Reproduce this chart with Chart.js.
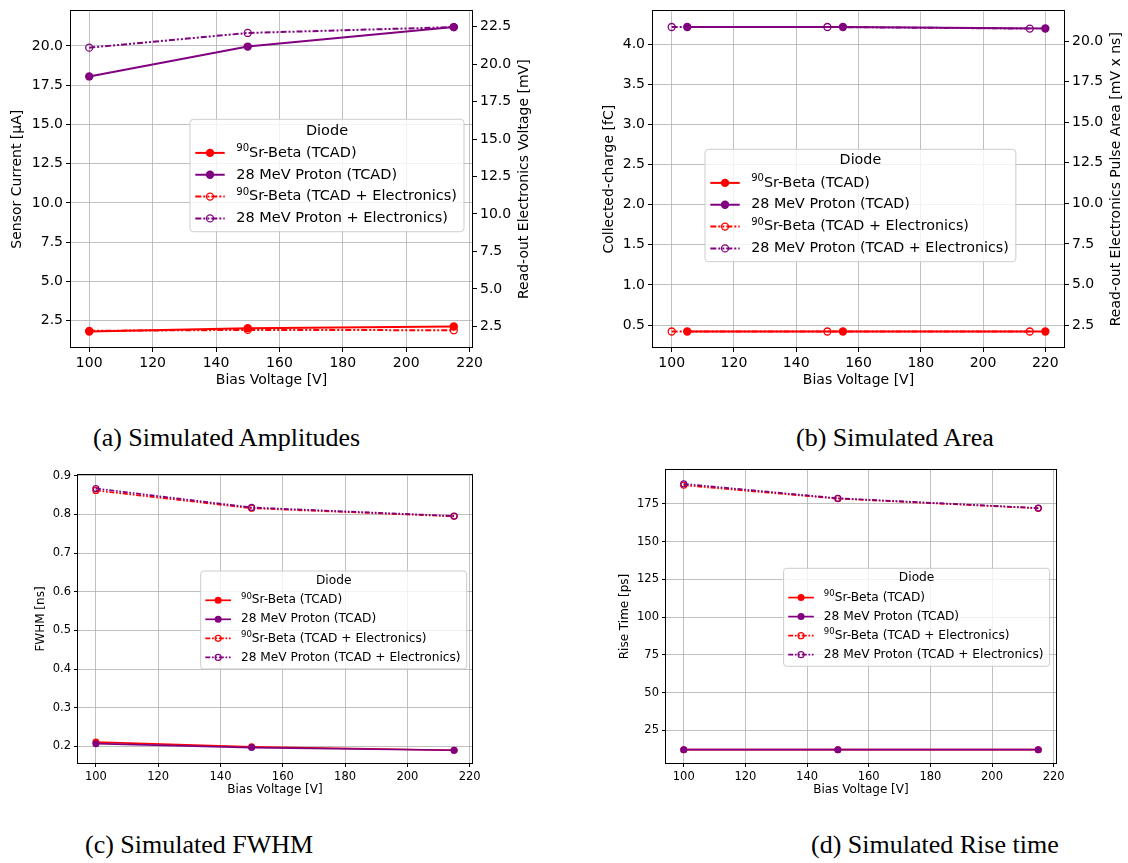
<!DOCTYPE html>
<html>
<head>
<meta charset="utf-8">
<script src="https://cdn.jsdelivr.net/npm/chart.js@4.4.1/dist/chart.umd.min.js"></script>
<style>
  body { margin: 0; background: #fff; width: 1128px; height: 863px; position: relative; overflow: hidden; }
  canvas { position: absolute; }
  .cap { position: absolute; font-family: 'Liberation Serif', 'Times New Roman', serif; font-size: 26px; line-height: 30px; white-space: nowrap; color: #000; }
</style>
</head>
<body>
<canvas id="amp" width="560" height="400" style="left:0px;top:0px"></canvas>
<canvas id="area" width="538" height="400" style="left:590px;top:0px"></canvas>
<canvas id="fwhm" width="560" height="345" style="left:0px;top:460px"></canvas>
<canvas id="rise" width="538" height="345" style="left:590px;top:460px"></canvas>
<div class="cap" style="left:93px;top:423px">(a) Simulated Amplitudes</div>
<div class="cap" style="left:796px;top:423px">(b) Simulated Area</div>
<div class="cap" style="left:85px;top:830px">(c) Simulated FWHM</div>
<div class="cap" style="left:811px;top:830px">(d) Simulated Rise time</div>
<script>
// bias voltages
const biasV = [100, 150, 215];
const biasVShifted = [105, 155, 220];
const xTicks = [100, 120, 140, 160, 180, 200, 220];

// (a) amplitudes: sensor current [uA] (TCAD) and read-out voltage [mV] (electronics)
const ampSrTcad = [1.81, 2.02, 2.14];
const ampProtonTcad = [18.06, 19.96, 21.2];
const ampSrElec = [2.2, 2.26, 2.24];
const ampProtonElec = [21.1, 22.08, 22.47];
const ampLeftTicks = [2.5, 5, 7.5, 10, 12.5, 15, 17.5, 20];
const ampRightTicks = [2.5, 5, 7.5, 10, 12.5, 15, 17.5, 20, 22.5];

// (b) area: collected charge [fC] and pulse area [mV x ns]
const areaSrTcad = [0.42, 0.42, 0.42];
const areaProtonTcad = [4.215, 4.215, 4.196];
const areaSrElec = [2.1, 2.1, 2.1];
const areaProtonElec = [20.87, 20.87, 20.77];
const areaLeftTicks = [0.5, 1, 1.5, 2, 2.5, 3, 3.5, 4];
const areaRightTicks = [2.5, 5, 7.5, 10, 12.5, 15, 17.5, 20];

// (c) FWHM [ns]
const fwhmSrTcad = [0.211, 0.199, 0.19];
const fwhmProtonTcad = [0.207, 0.197, 0.19];
const fwhmSrElec = [0.862, 0.816, 0.795];
const fwhmProtonElec = [0.867, 0.818, 0.796];
const fwhmTicks = [0.2, 0.3, 0.4, 0.5, 0.6, 0.7, 0.8, 0.9];

// (d) rise time [ps]
const riseSrTcad = [12.2, 12.2, 12.2];
const riseProtonTcad = [12.2, 12.2, 12.2];
const riseSrElec = [187.4, 178.5, 172.1];
const riseProtonElec = [188.3, 178.8, 172.3];
const riseTicks = [25, 50, 75, 100, 125, 150, 175];

const labelsA = ['⁹⁰Sr-Beta (TCAD)', '28 MeV Proton (TCAD)', '⁹⁰Sr-Beta (TCAD + Electronics)', '28 MeV Proton + Electronics)'];
const labelsB = ['⁹⁰Sr-Beta (TCAD)', '28 MeV Proton (TCAD)', '⁹⁰Sr-Beta (TCAD + Electronics)', '28 MeV Proton (TCAD + Electronics)'];

const RED = '#ff0000', PURPLE = '#800080';
const FONT = "'DejaVu Sans', sans-serif";
Chart.defaults.font.family = FONT;
Chart.defaults.color = '#000';

const big = { lw: 2, r: 4.2, ro: 3.5, pbw: 1.3, dash: [6, 2, 2, 2, 2, 2] };
const small = { lw: 1.7, r: 3.5, ro: 3, pbw: 1.2, dash: [5, 1.7, 1.7, 1.7, 1.7, 1.7] };

function pts(xs, ys) { return xs.map((x, i) => ({ x: x, y: ys[i] })); }

function solid(label, color, data, axis, order, s) {
  return {
    label: label, data: data, yAxisID: axis, order: order,
    borderColor: color, backgroundColor: color, borderWidth: s.lw,
    pointRadius: s.r, pointHoverRadius: s.r, pointBackgroundColor: color,
    pointBorderColor: color, pointBorderWidth: 0, tension: 0, fill: false
  };
}
function dashed(label, color, data, axis, order, s) {
  return {
    label: label, data: data, yAxisID: axis, order: order,
    borderColor: color, backgroundColor: 'rgba(0,0,0,0)', borderWidth: s.lw, borderDash: s.dash,
    pointRadius: s.ro, pointHoverRadius: s.ro, pointBackgroundColor: 'rgba(0,0,0,0)',
    pointBorderColor: color, pointBorderWidth: s.pbw, tension: 0, fill: false
  };
}

// matplotlib-like legend with superscript support
const SUP = '⁰¹²³⁴⁵⁶⁷⁸⁹';
function splitSup(label) {
  let i = 0, sup = '';
  while (i < label.length && SUP.indexOf(label[i]) >= 0) { sup += SUP.indexOf(label[i]); i++; }
  return { sup: sup, rest: label.slice(i) };
}
function labelText(ctx, label, x, y, fs, draw) {
  const p = splitSup(label);
  let cx = x;
  if (p.sup) {
    ctx.font = (fs * 0.7) + 'px ' + FONT;
    if (draw) ctx.fillText(p.sup, cx, y - fs * 0.3);
    cx += ctx.measureText(p.sup).width;
  }
  ctx.font = fs + 'px ' + FONT;
  if (draw) ctx.fillText(p.rest, cx, y);
  return cx + ctx.measureText(p.rest).width - x;
}

const legendPlugin = {
  id: 'mplLegend',
  afterDraw(chart, args, o) {
    if (o.x === undefined) return;
    const ctx = chart.ctx, fs = o.size, ts = o.textSize || o.size;
    const items = chart.data.datasets;
    ctx.save();
    ctx.textBaseline = 'middle';
    const maxW = Math.max(...items.map(ds => labelText(ctx, ds.label, 0, 0, ts, false)));
    const x0 = o.x, y0 = o.y;
    const w = 3.3 * fs + maxW + 0.5 * fs;
    const rowY = i => y0 + 2.4 * fs + i * 1.56 * fs;
    const h = 2.4 * fs + (items.length - 1) * 1.56 * fs + 0.95 * fs;
    const r = 0.25 * fs;
    ctx.beginPath();
    ctx.moveTo(x0 + r, y0);
    ctx.arcTo(x0 + w, y0, x0 + w, y0 + h, r);
    ctx.arcTo(x0 + w, y0 + h, x0, y0 + h, r);
    ctx.arcTo(x0, y0 + h, x0, y0, r);
    ctx.arcTo(x0, y0, x0 + w, y0, r);
    ctx.closePath();
    ctx.fillStyle = 'rgba(255,255,255,0.8)';
    ctx.fill();
    ctx.strokeStyle = '#cccccc';
    ctx.lineWidth = 1;
    ctx.stroke();
    ctx.fillStyle = '#000';
    ctx.font = ts + 'px ' + FONT;
    ctx.textAlign = 'center';
    ctx.fillText(o.title, x0 + w / 2, y0 + 0.82 * fs);
    ctx.textAlign = 'left';
    items.forEach((ds, i) => {
      const y = rowY(i);
      const hx0 = x0 + 0.38 * fs, hx1 = x0 + 2.48 * fs;
      ctx.save();
      ctx.strokeStyle = ds.borderColor;
      ctx.lineWidth = ds.borderWidth;
      ctx.setLineDash(ds.borderDash || []);
      ctx.beginPath();
      ctx.moveTo(hx0, y);
      ctx.lineTo(hx1, y);
      ctx.stroke();
      ctx.setLineDash([]);
      ctx.beginPath();
      ctx.arc((hx0 + hx1) / 2, y, ds.pointRadius, 0, Math.PI * 2);
      ctx.fillStyle = ds.pointBackgroundColor;
      ctx.fill();
      if (ds.pointBorderWidth > 0) {
        ctx.lineWidth = ds.pointBorderWidth;
        ctx.strokeStyle = ds.pointBorderColor;
        ctx.stroke();
      }
      ctx.restore();
      ctx.fillStyle = '#000';
      labelText(ctx, ds.label, x0 + 3.3 * fs, y, ts, true);
    });
    ctx.restore();
  }
};

const framePlugin = {
  id: 'frame',
  afterDatasetsDraw(chart) {
    const ctx = chart.ctx, a = chart.chartArea;
    ctx.save();
    ctx.strokeStyle = '#000';
    ctx.lineWidth = 1;
    ctx.strokeRect(Math.round(a.left) - 0.5, Math.round(a.top) - 0.5, Math.round(a.right - a.left) + 1, Math.round(a.bottom - a.top) + 1);
    ctx.restore();
  }
};

// right-hand axis title, reading bottom-to-top like matplotlib
const sideTitle = {
  id: 'sideTitle',
  afterDraw(chart, args, o) {
    if (!o.text) return;
    const ctx = chart.ctx, a = chart.chartArea;
    ctx.save();
    ctx.translate(a.right + o.offset, (a.top + a.bottom) / 2);
    ctx.rotate(-Math.PI / 2);
    ctx.font = o.size + 'px ' + FONT;
    ctx.fillStyle = '#000';
    ctx.textAlign = 'center';
    ctx.textBaseline = 'middle';
    ctx.fillText(o.text, 0, 0);
    ctx.restore();
  }
};

function gridOpts(onArea, tl) {
  return { display: true, drawOnChartArea: onArea, color: '#b0b0b0', lineWidth: 0.8,
           drawTicks: true, tickLength: tl, tickColor: '#000', tickWidth: 1 };
}

function yAxis(pos, min, max, ticks, fmt, title, fs, tfs, width, onArea, titlePad, tl) {
  return {
    type: 'linear', position: pos, min: min, max: max, bounds: 'data',
    afterBuildTicks: s => { s.ticks = ticks.map(v => ({ value: v })); },
    afterFit: s => { s.width = width; },
    ticks: { font: { size: fs }, padding: 3, autoSkip: false, callback: fmt },
    grid: gridOpts(onArea, tl),
    border: { display: false },
    title: title ? { display: true, text: title, font: { size: tfs }, padding: { top: titlePad, bottom: 0 } } : { display: false }
  };
}

function xAxis(min, max, fs, tfs, height, titlePad, tl) {
  return {
    type: 'linear', position: 'bottom', min: min, max: max, bounds: 'data',
    afterBuildTicks: s => { s.ticks = xTicks.map(v => ({ value: v })); },
    afterFit: s => { s.height = height; },
    ticks: { font: { size: fs }, padding: 3, autoSkip: false, maxRotation: 0, callback: v => String(v) },
    grid: gridOpts(true, tl),
    border: { display: false },
    title: { display: true, text: 'Bias Voltage [V]', font: { size: tfs }, padding: { top: 0, bottom: titlePad } }
  };
}

const f1 = v => v.toFixed(1);
const f0 = v => v.toFixed(0);

function panel(id, datasets, scales, padding, legend, side) {
  new Chart(document.getElementById(id), {
    type: 'line',
    data: { datasets: datasets },
    options: {
      responsive: false, animation: false, devicePixelRatio: 1,
      layout: { padding: padding },
      plugins: { legend: { display: false }, tooltip: { enabled: false }, mplLegend: legend, sideTitle: side || {} },
      scales: scales
    },
    plugins: [framePlugin, legendPlugin, sideTitle]
  });
}

// (a) Simulated Amplitudes
panel('amp', [
  solid(labelsA[0], RED, pts(biasV, ampSrTcad), 'y', 4, big),
  solid(labelsA[1], PURPLE, pts(biasV, ampProtonTcad), 'y', 3, big),
  dashed(labelsA[2], RED, pts(biasV, ampSrElec), 'y1', 2, big),
  dashed(labelsA[3], PURPLE, pts(biasV, ampProtonElec), 'y1', 1, big)
], {
  x: xAxis(94.25, 220.75, 14, 14, 53, 11.6, 5),
  y: yAxis('left', 0.83, 22.2, ampLeftTicks, f1, 'Sensor Current [μA]', 14, 14, 71, true, 9, 5),
  y1: yAxis('right', 1.12, 23.52, ampRightTicks, f1, null, 14, 14, 88, false, 0, 5)
}, { top: 5, left: 0, right: 0, bottom: 0 },
{ x: 190, y: 119.3, size: 14, textSize: 14.5, title: 'Diode' },
{ text: 'Read-out Electronics Voltage [mV]', offset: 52, size: 14 });

// (b) Simulated Area
panel('area', [
  solid(labelsB[0], RED, pts(biasVShifted, areaSrTcad), 'y', 4, big),
  solid(labelsB[1], PURPLE, pts(biasVShifted, areaProtonTcad), 'y', 3, big),
  dashed(labelsB[2], RED, pts(biasV, areaSrElec), 'y1', 2, big),
  dashed(labelsB[3], PURPLE, pts(biasV, areaProtonElec), 'y1', 1, big)
], {
  x: xAxis(94, 226, 14, 14, 53, 11.6, 5),
  y: yAxis('left', 0.226, 4.41, areaLeftTicks, f1, 'Collected-charge [fC]', 14, 14, 63, true, 11.4, 5),
  y1: yAxis('right', 1.145, 21.83, areaRightTicks, f1, null, 14, 14, 64, false, 0, 5)
}, { top: 5, left: 0, right: 0, bottom: 0 },
{ x: 115, y: 149.3, size: 14, textSize: 14.3, title: 'Diode' },
{ text: 'Read-out Electronics Pulse Area [mV x ns]', offset: 52, size: 14 });

// (c) Simulated FWHM
panel('fwhm', [
  solid(labelsB[0], RED, pts(biasV, fwhmSrTcad), 'y', 4, small),
  solid(labelsB[1], PURPLE, pts(biasV, fwhmProtonTcad), 'y', 3, small),
  dashed(labelsB[2], RED, pts(biasV, fwhmSrElec), 'y', 2, small),
  dashed(labelsB[3], PURPLE, pts(biasV, fwhmProtonElec), 'y', 1, small)
], {
  x: xAxis(94.25, 220.75, 11.5, 12, 42, 7.5, 4),
  y: yAxis('left', 0.157, 0.902, fwhmTicks, f1, 'FWHM [ns]', 11.5, 12, 78, true, 33.8, 4)
}, { top: 15, left: 0, right: 88, bottom: 0 },
{ x: 200.7, y: 111, size: 12.2, title: 'Diode' });

// (d) Simulated Rise time
panel('rise', [
  solid(labelsB[0], RED, pts(biasV, riseSrTcad), 'y', 4, small),
  solid(labelsB[1], PURPLE, pts(biasV, riseProtonTcad), 'y', 3, small),
  dashed(labelsB[2], RED, pts(biasV, riseSrElec), 'y', 2, small),
  dashed(labelsB[3], PURPLE, pts(biasV, riseProtonElec), 'y', 1, small)
], {
  x: xAxis(94.25, 220.75, 11.5, 12, 42, 7.5, 4),
  y: yAxis('left', 3.4, 197.5, riseTicks, f0, 'Rise Time [ps]', 11.5, 12, 76, true, 27.3, 4)
}, { top: 10, left: 0, right: 72, bottom: 0 },
{ x: 193.6, y: 108.3, size: 12.2, title: 'Diode' });
</script>
</body>
</html>
